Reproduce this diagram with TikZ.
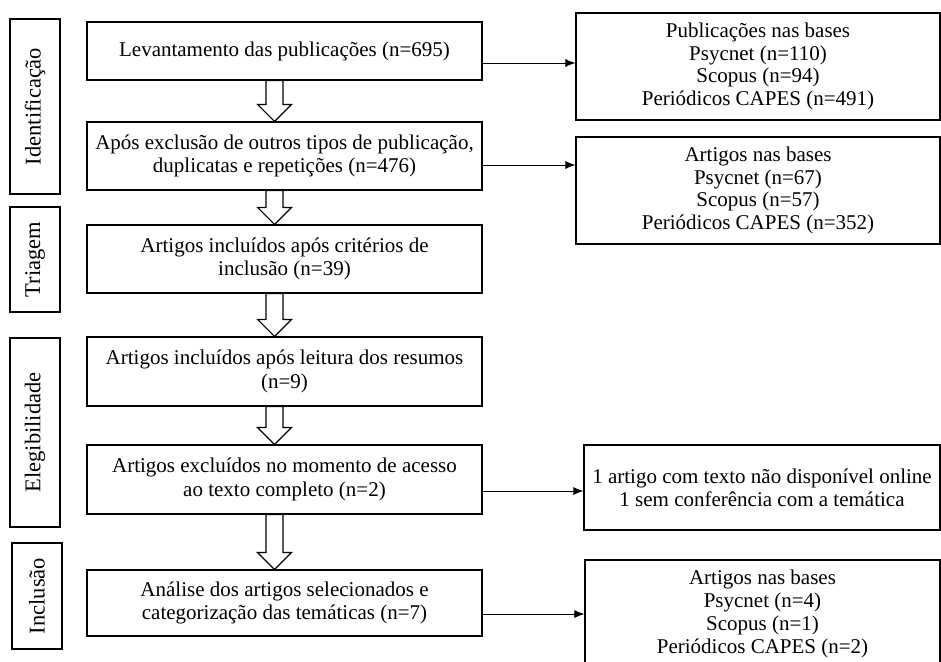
\documentclass[tikz,border=0pt]{standalone}
\usepackage{fontspec}
\setmainfont{Liberation Serif}
\usetikzlibrary{calc,arrows.meta}

\newcommand{\setabloco}[2]{%
  \draw[line width=1.2pt,fill=white] let \p1=([xshift=-10pt]#1.south), \p2=(#2.north) in
    (\x1-8.5pt,\y1) -- (\x1-8.5pt,\y2+17pt) -- (\x1-17pt,\y2+17pt) -- (\x1,\y2)
    -- (\x1+17pt,\y2+17pt) -- (\x1+8.5pt,\y2+17pt) -- (\x1+8.5pt,\y1) -- cycle;}

\begin{document}
\begin{tikzpicture}[x=1pt,y=-1pt,>={Latex[length=10pt,width=8pt]},
  etapa/.style={draw,line width=1.2pt,minimum width=395pt,align=center,inner sep=0pt,font=\fontsize{21}{23.5}\selectfont},
  fase/.style={draw,line width=1.2pt,rotate=90,inner sep=0pt,font=\fontsize{22.5}{24}\selectfont},
  bases/.style={draw,line width=1.2pt,align=center,inner sep=0pt,font=\fontsize{21}{22.8}\selectfont}]
\useasboundingbox (0,0) rectangle (941,661);
% fases
\node[fase,minimum width=175pt,minimum height=50pt] (ident) at (35,106.5) {Identificação};
\node[fase,minimum width=105pt,minimum height=50pt] (triag) at (35,259.5) {Triagem};
\node[fase,minimum width=189pt,minimum height=50pt] (eleg) at (35,432.5) {Elegibilidade};
\node[fase,minimum width=106pt,minimum height=50pt] (incl) at (37,596) {Inclusão};
% etapas
\node[etapa,minimum height=58pt] (levant) at (284.5,51) {Levantamento das publicações (n=695)};
\node[etapa,minimum height=68pt] (exclus) at (284.5,156) {Após exclusão de outros tipos de publicação,\\ duplicatas e repetições (n=476)};
\node[etapa,minimum height=68pt] (criter) at (284.5,259) {Artigos incluídos após critérios de\\ inclusão (n=39)};
\node[etapa,minimum height=69pt] (resumo) at (284.5,371.5) {Artigos incluídos após leitura dos resumos\\ (n=9)};
\node[etapa,minimum height=69pt] (acesso) at (284.5,479.5) {Artigos excluídos no momento de acesso\\ ao texto completo (n=2)};
\node[etapa,minimum height=66pt] (analise) at (284.5,603) {Análise dos artigos selecionados e\\ categorização das temáticas (n=7)};
% bases
\node[bases,minimum width=364pt,minimum height=107pt] (pub) at (758,66.5) {Publicações nas bases\\ Psycnet (n=110)\\ Scopus (n=94)\\ Periódicos CAPES (n=491)};
\node[bases,minimum width=364pt,minimum height=107pt] (art) at (758,190.5) {Artigos nas bases\\ Psycnet (n=67)\\ Scopus (n=57)\\ Periódicos CAPES (n=352)};
\node[bases,minimum width=356pt,minimum height=85pt] (motivo) at (762,487.5) {1 artigo com texto não disponível online\\ 1 sem conferência com a temática};
\node[bases,minimum width=355pt,minimum height=108pt] (final) at (762.5,614) {Artigos nas bases\\ Psycnet (n=4)\\ Scopus (n=1)\\ Periódicos CAPES (n=2)};
% setas
\setabloco{levant}{exclus}
\setabloco{exclus}{criter}
\setabloco{criter}{resumo}
\setabloco{resumo}{acesso}
\setabloco{acesso}{analise}
\coordinate (s1) at ([yshift=-12pt]levant.east);
\coordinate (s2) at ([yshift=-9pt]exclus.east);
\coordinate (s3) at ([yshift=-11.5pt]acesso.east);
\coordinate (s4) at ([yshift=-11pt]analise.east);
\draw[->,line width=0.8pt] (s1) -- (s1 -| pub.west);
\draw[->,line width=0.8pt] (s2) -- (s2 -| art.west);
\draw[->,line width=0.8pt] (s3) -- (s3 -| motivo.west);
\draw[->,line width=0.8pt] (s4) -- (s4 -| final.west);
\end{tikzpicture}
\end{document}
